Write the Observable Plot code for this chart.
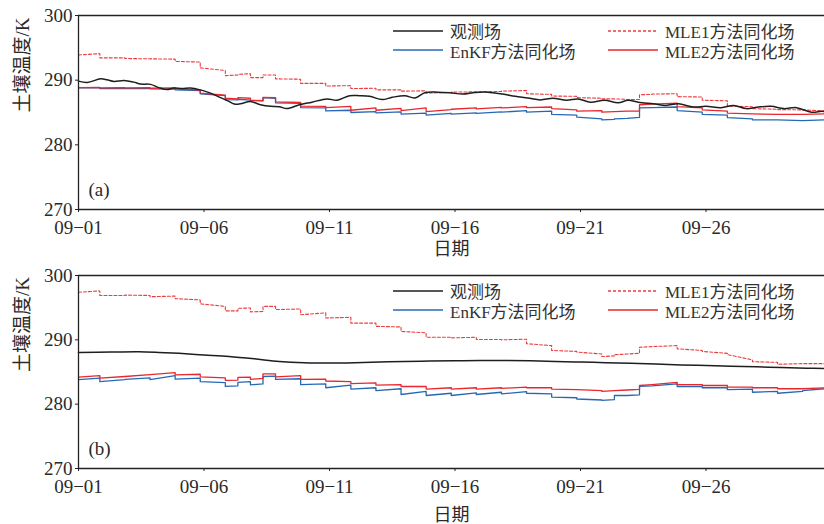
<!DOCTYPE html>
<html><head><meta charset="utf-8">
<script src="https://cdn.jsdelivr.net/npm/d3@7"></script>
<script src="https://cdn.jsdelivr.net/npm/@observablehq/plot@0.6"></script>
<style>
body{margin:0;background:#fff;}
.panel{position:relative;width:824px;height:262px;}
.panel svg{display:block;}
.leg{position:absolute;display:flex;align-items:center;height:17px;line-height:17px;font:17px "Liberation Serif","Noto Sans CJK SC",serif;color:#333;white-space:nowrap;}
.leg svg{margin-right:7px;}
</style></head>
<body><div id="wrap"></div>
<script>
// ---- shared ----
const xTickDays = [0, 5, 10, 15, 20, 25];
const xTickLabels = ["09\u221201", "09\u221206", "09\u221211", "09\u221216", "09\u221221", "09\u221226"];
const yTicks = [270, 280, 290, 300];
const seriesNames = ["观测场", "EnKF方法同化场", "MLE1方法同化场", "MLE2方法同化场"];
// assimilation windows (days since 09-01)
const winEdges = [0, 0.85, 1.85, 2.85, 3.85, 4.85, 5.85, 6.35, 6.85, 7.35, 7.85, 8.85, 9.85, 10.85, 11.85, 12.85, 13.85, 14.85, 15.85, 16.85, 17.85, 18.85, 19.85, 20.85, 21.35, 21.85, 22.35, 22.85, 23.85, 24.85, 25.85, 26.85, 27.85, 28.85, 29.72];

// ---- panel (a) ----
const obsATime = [0, 0.35, 0.88, 1.14, 1.41, 1.81, 2.2, 2.47, 2.87, 3.2, 3.53, 3.8, 4.13, 4.46, 4.86, 5.26, 5.66, 5.95, 6.2, 6.45, 6.85, 7.25, 7.65, 8.0, 8.3, 8.8, 9.3, 9.9, 10.3, 10.8, 11.2, 11.6, 12.1, 12.5, 13.0, 13.4, 13.8, 14.3, 14.8, 15.3, 15.8, 16.3, 16.9, 17.4, 17.9, 18.4, 18.9, 19.45, 19.9, 20.4, 20.95, 21.5, 21.9, 22.3, 22.9, 23.4, 23.9, 24.5, 25.0, 25.6, 26.1, 26.6, 27.1, 27.6, 28.1, 28.6, 29.2, 29.6, 29.72];
const obsAVal = [289.85, 289.65, 290.2, 290.05, 289.8, 289.95, 289.7, 289.4, 289.35, 288.85, 288.55, 288.8, 288.7, 288.8, 288.5, 288.0, 287.3, 286.8, 286.3, 286.35, 286.7, 286.2, 285.95, 285.9, 285.6, 286.2, 286.6, 287.1, 286.9, 287.6, 287.6, 287.5, 287.0, 287.35, 287.6, 287.25, 288.05, 288.15, 288.05, 287.85, 288.1, 288.15, 287.85, 287.5, 287.25, 286.95, 287.2, 286.9, 287.1, 286.6, 286.9, 286.5, 286.9, 286.6, 286.35, 286.1, 286.35, 285.85, 285.95, 285.75, 286.1, 285.6, 285.85, 285.95, 285.6, 285.75, 285.05, 285.2, 285.15];
const enkfAStart = [288.8, 288.7, 288.7, 288.65, 288.5, 287.9, 287.0, 287.05, 286.85, 287.3, 286.5, 285.75, 285.25, 285.0, 284.95, 284.75, 284.6, 284.75, 284.85, 285.05, 285.05, 284.7, 284.3, 283.85, 284.0, 284.1, 285.7, 285.75, 285.3, 284.7, 284.2, 283.85, 283.85, 283.75];
const enkfAEnd   = [288.85, 288.75, 288.7, 288.6, 288.4, 287.6, 286.95, 286.9, 286.8, 287.2, 286.4, 285.7, 285.35, 285.15, 285.1, 284.9, 284.85, 284.95, 285.1, 285.3, 285.2, 284.6, 284.0, 283.95, 284.1, 284.25, 285.75, 285.85, 285.05, 284.6, 284.0, 283.85, 283.75, 283.85];
const mle1AStart = [293.9, 293.45, 293.35, 293.3, 292.9, 291.9, 290.7, 290.9, 290.4, 290.8, 290.2, 289.5, 289.1, 288.7, 288.5, 288.3, 288.0, 288.15, 288.2, 288.3, 287.9, 287.55, 287.3, 287.1, 287.1, 287.0, 287.75, 287.85, 287.45, 286.9, 286.0, 285.6, 285.45, 285.4];
const mle1AEnd   = [294.1, 293.45, 293.3, 293.25, 292.8, 291.5, 290.8, 291.0, 290.4, 290.8, 290.15, 289.5, 289.15, 288.75, 288.5, 288.35, 288.1, 288.2, 288.25, 288.4, 287.8, 287.5, 287.2, 287.1, 287.05, 287.0, 287.8, 287.9, 287.4, 286.8, 285.9, 285.5, 285.4, 285.25];
const mle2AStart = [288.85, 288.8, 288.8, 288.75, 288.6, 288.0, 287.2, 287.3, 286.9, 287.35, 286.65, 286.0, 285.75, 285.35, 285.35, 285.3, 285.15, 285.5, 285.55, 285.7, 285.75, 285.6, 285.2, 285.05, 285.15, 285.2, 286.2, 286.3, 285.9, 285.4, 284.9, 284.8, 284.7, 284.7];
const mle2AEnd   = [288.9, 288.85, 288.85, 288.8, 288.5, 287.7, 287.1, 287.2, 286.85, 287.3, 286.55, 285.95, 285.95, 285.7, 285.65, 285.7, 285.45, 285.7, 285.8, 285.9, 285.85, 285.4, 285.3, 285.15, 285.2, 285.2, 286.3, 286.45, 285.7, 285.2, 284.8, 284.7, 284.7, 284.8];

// ---- panel (b) ----
const obsBTime = [0, 1.3, 2.4, 3.2, 4.0, 5.0, 6.0, 7.0, 8.0, 9.0, 10.0, 11.0, 12.0, 13.0, 14.0, 15.0, 16.0, 17.0, 18.0, 19.0, 20.0, 21.0, 22.0, 23.0, 24.0, 25.0, 26.0, 27.0, 28.0, 29.0, 29.72];
const obsBVal  = [288.05, 288.1, 288.15, 288.05, 287.9, 287.65, 287.4, 287.05, 286.65, 286.45, 286.4, 286.45, 286.55, 286.65, 286.7, 286.75, 286.8, 286.8, 286.75, 286.65, 286.55, 286.45, 286.35, 286.25, 286.1, 286.0, 285.9, 285.8, 285.7, 285.6, 285.55];
const enkfBStart = [283.8, 283.5, 283.85, 283.8, 283.9, 283.5, 282.75, 283.4, 283.0, 284.3, 283.85, 283.05, 282.55, 282.35, 282.1, 281.5, 281.35, 281.35, 281.5, 281.6, 281.7, 281.1, 280.8, 280.6, 281.35, 281.35, 282.75, 282.85, 282.75, 282.55, 282.25, 281.85, 281.7, 282.1];
const enkfBEnd   = [284.05, 283.8, 284.1, 284.45, 284.05, 283.35, 282.85, 283.5, 283.15, 284.35, 283.95, 283.15, 282.95, 282.55, 282.4, 282.0, 281.7, 281.75, 281.85, 281.95, 281.6, 281.0, 280.65, 280.7, 281.35, 281.45, 282.85, 283.15, 282.75, 282.55, 282.35, 282.0, 282.0, 282.4];
const mle1BStart = [297.4, 296.9, 296.95, 296.7, 296.4, 295.6, 294.5, 294.9, 294.35, 295.2, 294.7, 293.9, 293.4, 292.6, 292.1, 291.3, 290.4, 290.3, 290.05, 290.0, 289.4, 288.35, 288.1, 287.4, 287.7, 287.8, 288.85, 288.95, 288.6, 288.2, 287.7, 286.6, 286.2, 286.3];
const mle1BEnd   = [297.6, 296.9, 296.9, 296.8, 296.2, 295.2, 294.5, 294.95, 294.4, 295.2, 294.8, 294.2, 293.5, 292.6, 292.0, 291.1, 290.4, 290.4, 290.05, 290.1, 289.1, 288.2, 287.8, 287.5, 287.8, 287.9, 288.95, 289.1, 288.35, 287.9, 286.9, 286.5, 286.3, 286.3];
const mle2BStart = [284.2, 284.05, 284.3, 284.6, 284.55, 284.25, 283.7, 284.15, 283.85, 284.7, 284.25, 283.85, 283.6, 283.2, 282.95, 282.75, 282.35, 282.35, 282.35, 282.45, 282.55, 282.35, 282.25, 282.0, 282.1, 282.2, 282.9, 283.05, 283.05, 282.9, 282.65, 282.55, 282.4, 282.4];
const mle2BEnd   = [284.45, 284.3, 284.6, 284.9, 284.65, 284.1, 283.75, 284.2, 284.0, 284.7, 284.45, 283.9, 283.5, 283.3, 283.05, 282.75, 282.55, 282.55, 282.55, 282.65, 282.55, 282.25, 282.1, 282.1, 282.2, 282.3, 283.05, 283.4, 283.05, 282.9, 282.65, 282.55, 282.4, 282.55];

// ---- styles ----
const colObs = "#1e1e1e", colEnkf = "#2768b4", colMle1 = "#ee3b3f", colMle2 = "#e8272e";
const FONT = '"Liberation Serif","Noto Sans CJK SC",serif';

function windows(starts, ends) {
  const out = [];
  for (let k = 0; k < starts.length; k++) {
    out.push({t: winEdges[k], v: starts[k]});
    out.push({t: winEdges[k + 1], v: ends[k]});
  }
  return out;
}
function pts(ts, vs) { return ts.map((t, i) => ({t, v: vs[i]})); }

function makePanel(cfg) {
  const div = document.createElement("div");
  div.className = "panel";
  const plot = Plot.plot({
    width: 824, height: 262,
    marginLeft: 78, marginRight: 0, marginTop: cfg.mt, marginBottom: cfg.mb,
    x: {domain: [0, 29.72]},
    y: {domain: [270, 300]},
    style: {fontFamily: FONT, fontSize: "19px", color: "#2a2a2a", background: "white"},
    marks: [
      Plot.line(windows(cfg.enkfS, cfg.enkfE), {x: "t", y: "v", stroke: colEnkf, strokeWidth: 1.3}),
      Plot.line(windows(cfg.mle2S, cfg.mle2E), {x: "t", y: "v", stroke: colMle2, strokeWidth: 1.3}),
      Plot.line(windows(cfg.mle1S, cfg.mle1E), {x: "t", y: "v", stroke: colMle1, strokeWidth: 1.1, strokeDasharray: "3,2"}),
      Plot.line(pts(cfg.obsT, cfg.obsV), {x: "t", y: "v", stroke: colObs, strokeWidth: 1.5, curve: "catmull-rom"}),
      Plot.ruleY([300], {stroke: "#222", strokeWidth: 1.3}),
      Plot.ruleY([270], {stroke: "#222", strokeWidth: 1.3}),
      Plot.ruleX([0], {stroke: "#222", strokeWidth: 1.3}),
      Plot.axisX({ticks: xTickDays, tickFormat: d => xTickLabels[xTickDays.indexOf(d)], tickSize: 3, tickPadding: 8, label: null, fontSize: 19, stroke: "#222"}),
      Plot.axisY({ticks: yTicks, tickSize: 3, tickPadding: 3, label: null, fontSize: 19, stroke: "#222"}),
      Plot.text(["日期"], {frameAnchor: "bottom", dy: cfg.xlabDy, fontSize: 18, fill: "#2a2a2a"}),
      Plot.text(["土壤温度/K"], {frameAnchor: "left", dx: -56, rotate: -90, fontSize: 19, fill: "#2a2a2a"}),
      Plot.text([cfg.tag], {frameAnchor: "bottom-left", dx: 10, dy: -14, textAnchor: "start", fontSize: 19, fill: "#2a2a2a"})
    ]
  });
  div.appendChild(plot);
  const items = [
    {name: seriesNames[0], color: colObs, dash: null, x: 393, row: 0},
    {name: seriesNames[1], color: colEnkf, dash: null, x: 393, row: 1},
    {name: seriesNames[2], color: colMle1, dash: "3,2", x: 608, row: 0},
    {name: seriesNames[3], color: colMle2, dash: null, x: 608, row: 1}
  ];
  for (const it of items) {
    const el = document.createElement("div");
    el.className = "leg";
    el.style.left = it.x + "px";
    el.style.top = (cfg.mt + 7 + it.row * 19.5) + "px";
    el.innerHTML = `<svg width="50" height="4"><line x1="0" x2="50" y1="2" y2="2" stroke="${it.color}" stroke-width="1.4" ${it.dash ? `stroke-dasharray="${it.dash}"` : ""}/></svg><span>${it.name}</span>`;
    div.appendChild(el);
  }
  return div;
}

const wrap = document.getElementById("wrap");
wrap.appendChild(makePanel({mt: 15, mb: 53, xlabDy: 45, tag: "(a)", obsT: obsATime, obsV: obsAVal,
  enkfS: enkfAStart, enkfE: enkfAEnd, mle1S: mle1AStart, mle1E: mle1AEnd, mle2S: mle2AStart, mle2E: mle2AEnd}));
wrap.appendChild(makePanel({mt: 13, mb: 56, xlabDy: 52, tag: "(b)", obsT: obsBTime, obsV: obsBVal,
  enkfS: enkfBStart, enkfE: enkfBEnd, mle1S: mle1BStart, mle1E: mle1BEnd, mle2S: mle2BStart, mle2E: mle2BEnd}));
</script></body></html>
